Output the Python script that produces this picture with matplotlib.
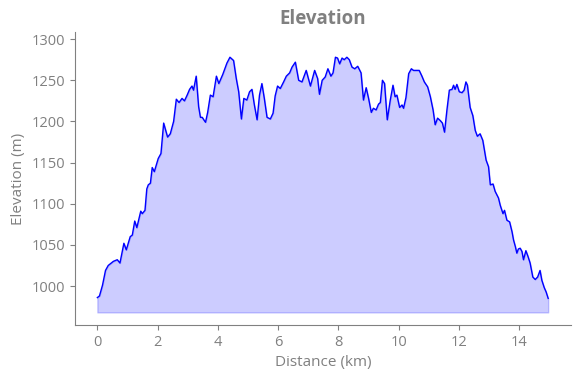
import numpy as np
import matplotlib
matplotlib.use("Agg")
import matplotlib.pyplot as plt

plt.rcParams['font.family'] = ['Open Sans', 'DejaVu Sans']

# distance along the track (km) and elevation (m)
distance = [0.00, 0.07, 0.17, 0.27, 0.36, 0.53, 0.66, 0.75, 0.88, 0.96,
            1.09, 1.16, 1.24, 1.31, 1.44, 1.49, 1.58, 1.64, 1.69, 1.76,
            1.82, 1.89, 2.02, 2.11, 2.20, 2.33, 2.42, 2.53, 2.62, 2.71,
            2.81, 2.89, 2.98, 3.06, 3.14, 3.19, 3.28, 3.36, 3.42, 3.48,
            3.55, 3.59, 3.66, 3.75, 3.84, 3.95, 4.03, 4.16, 4.30, 4.40,
            4.52, 4.61, 4.69, 4.78, 4.86, 4.96, 5.05, 5.13, 5.21, 5.30,
            5.38, 5.46, 5.54, 5.63, 5.74, 5.83, 5.90, 5.98, 6.07, 6.18,
            6.27, 6.38, 6.46, 6.57, 6.68, 6.79, 6.93, 7.07, 7.21, 7.31,
            7.37, 7.46, 7.56, 7.65, 7.75, 7.82, 7.90, 7.97, 8.04, 8.12,
            8.19, 8.28, 8.36, 8.45, 8.54, 8.64, 8.75, 8.83, 8.92, 9.00,
            9.09, 9.16, 9.25, 9.33, 9.39, 9.46, 9.53, 9.62, 9.72, 9.81,
            9.88, 9.94, 10.03, 10.11, 10.16, 10.24, 10.33, 10.42, 10.49, 10.60,
            10.68, 10.77, 10.85, 10.96, 11.05, 11.14, 11.21, 11.29, 11.38, 11.45,
            11.52, 11.60, 11.68, 11.77, 11.82, 11.87, 11.93, 12.01, 12.10, 12.17,
            12.23, 12.28, 12.37, 12.46, 12.54, 12.61, 12.70, 12.79, 12.90, 12.98,
            13.04, 13.13, 13.20, 13.31, 13.37, 13.46, 13.51, 13.59, 13.68, 13.76,
            13.81, 13.87, 13.92, 13.97, 14.03, 14.09, 14.14, 14.22, 14.29, 14.36,
            14.45, 14.53, 14.61, 14.69, 14.75, 14.83, 14.89, 14.96]

elevation = [986, 988, 1001, 1019, 1025, 1030, 1032, 1028, 1052, 1044,
             1060, 1062, 1079, 1071, 1091, 1088, 1092, 1118, 1123, 1125,
             1144, 1139, 1155, 1161, 1198, 1181, 1185, 1200, 1227, 1223,
             1228, 1225, 1232, 1239, 1243, 1238, 1255, 1218, 1205, 1205,
             1201, 1199, 1211, 1232, 1230, 1255, 1246, 1257, 1271, 1278,
             1274, 1252, 1236, 1203, 1228, 1226, 1236, 1239, 1220, 1202,
             1232, 1246, 1228, 1205, 1203, 1210, 1231, 1243, 1240, 1248,
             1255, 1259, 1266, 1272, 1250, 1248, 1262, 1243, 1262, 1252,
             1233, 1250, 1254, 1264, 1255, 1259, 1278, 1277, 1270, 1277,
             1275, 1278, 1275, 1266, 1264, 1267, 1259, 1226, 1241, 1228,
             1211, 1216, 1214, 1221, 1223, 1250, 1246, 1202, 1226, 1244,
             1230, 1232, 1217, 1220, 1216, 1229, 1258, 1264, 1262, 1262,
             1262, 1255, 1248, 1242, 1230, 1214, 1196, 1204, 1201, 1198,
             1187, 1214, 1238, 1239, 1244, 1239, 1245, 1236, 1235, 1238,
             1248, 1244, 1217, 1207, 1189, 1182, 1185, 1177, 1153, 1145,
             1123, 1124, 1115, 1107, 1098, 1088, 1092, 1080, 1078, 1066,
             1056, 1048, 1040, 1045, 1046, 1042, 1032, 1043, 1036, 1028,
             1011, 1008, 1011, 1019, 1007, 998, 993, 985]

base = 968

grey = '#808080'

fig = plt.figure(figsize=(5.8, 3.78), dpi=100)
ax = fig.add_axes([0.129, 0.140, 0.855, 0.775])

ax.fill_between(distance, elevation, base, color='blue', alpha=0.2, linewidth=1)
ax.plot(distance, elevation, color='blue', linewidth=1)

ax.set_ylim(952.6, 1308.5)
ax.set_xticks([0, 2, 4, 6, 8, 10, 12, 14])
ax.set_yticks([1000, 1050, 1100, 1150, 1200, 1250, 1300])

ax.set_title('Elevation', color=grey, fontweight='bold', fontsize=13.5)
ax.set_xlabel('Distance (km)', color=grey, fontsize=11)
ax.set_ylabel('Elevation (m)', color=grey, fontsize=11)

ax.spines['top'].set_visible(False)
ax.spines['right'].set_visible(False)
ax.spines['left'].set_color(grey)
ax.spines['bottom'].set_color(grey)
ax.tick_params(colors=grey, labelsize=10.5)

fig.savefig('out.png', dpi=100)
